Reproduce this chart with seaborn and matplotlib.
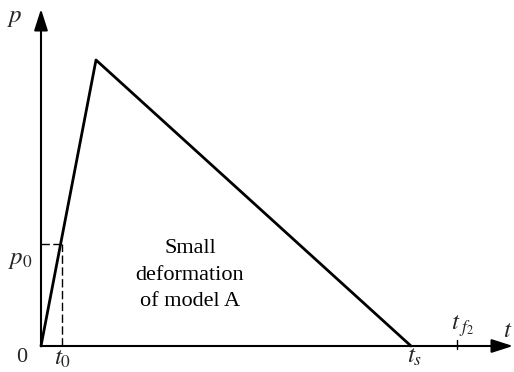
import matplotlib
matplotlib.use("Agg")
import matplotlib.pyplot as plt
import seaborn as sns
import pandas as pd

# Load history p(t): linear rise, then linear decay to zero at t_s
t_values = [0, 55, 370]
p_values = [0, 286, 0]

# Reference instants and level marked on the axes
t0 = 21
p0 = 102
tf2 = 416
t_end = 472
p_end = 337

sns.set_style("white")
plt.rcParams["font.family"] = ["Liberation Serif", "DejaVu Serif"]
plt.rcParams["mathtext.fontset"] = "stix"

fig = plt.figure(figsize=(5.14, 3.72), dpi=100)
ax = fig.add_axes([0, 0, 1, 1])
ax.set_xlim(-41, 473)
ax.set_ylim(-26, 346)
ax.axis("off")

df = pd.DataFrame({"t": t_values, "p": p_values})
sns.lineplot(data=df, x="t", y="p", ax=ax, color="black", linewidth=2.0,
             sort=False, estimator=None)

# Axes with arrow heads
arrow = dict(arrowstyle="-|>,head_length=1.0,head_width=0.32", color="black",
             lw=1.5, mutation_scale=13, shrinkA=0, shrinkB=0)
ax.annotate("", xy=(0, p_end), xytext=(0, 0), arrowprops=arrow)
ax.annotate("", xy=(t_end, 0), xytext=(0, 0), arrowprops=arrow)

# Dashed guides for p0 at t0
dash = (0, (6, 2.5))
ax.plot([0, t0], [p0, p0], color="black", lw=1.0, ls=dash)
ax.plot([t0, t0], [0, p0], color="black", lw=1.0, ls=dash)

# Tick mark at t_f2
ax.plot([tf2, tf2], [-3, 6], color="black", lw=1.0)

fs = 16
ms = 18
ax.text(-26, 328, r"$p$", fontsize=ms, ha="center", va="center")
ax.text(-21, 86, r"$p_0$", fontsize=ms, ha="center", va="center")
ax.text(-19, -11, "0", fontsize=fs, ha="center", va="center")
ax.text(22, -13, r"$t_0$", fontsize=ms, ha="center", va="center")
ax.text(374, -11, r"$t_s$", fontsize=ms, ha="center", va="center")
ax.text(422, 20, r"$t_{\;f_2}$", fontsize=ms, ha="center", va="center")
ax.text(467, 15, r"$t$", fontsize=ms, ha="center", va="center")

ax.text(149, 71, "Small\ndeformation\nof model A", fontsize=fs,
        ha="center", va="center", linespacing=1.55, color="black")

fig.savefig("out.png", dpi=100)
